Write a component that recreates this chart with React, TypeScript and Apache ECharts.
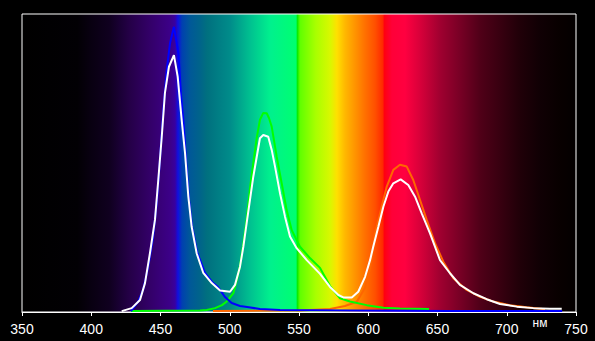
import React, { useEffect, useRef } from "react";
import * as echarts from "echarts";

// wavelength (nm) -> relative intensity (0..1 of plot height)
const blueData: [number, number][] = [
  [428.7, 0.003], [433.8, 0.034], [437.4, 0.074], [441.0, 0.148], [444.6, 0.248],
  [447.5, 0.376], [449.6, 0.51], [452.0, 0.678], [454.5, 0.812], [456.9, 0.903],
  [459.7, 0.957], [462.9, 0.869], [464.8, 0.728], [466.5, 0.644], [468.4, 0.51],
  [470.6, 0.376], [472.7, 0.289], [476.4, 0.201], [482.1, 0.131], [487.2, 0.101],
  [491.5, 0.084], [496.6, 0.05], [501.4, 0.03], [507.4, 0.02], [512.5, 0.017],
  [521.8, 0.01], [536.3, 0.007], [586.8, 0.005], [659.0, 0.003], [740.0, 0.003],
];

const greenData: [number, number][] = [
  [428.7, 0.003], [478.5, 0.005], [483.4, 0.007], [489.4, 0.013], [494.4, 0.023],
  [497.8, 0.035], [502.6, 0.063], [505.0, 0.105], [507.4, 0.155], [509.8, 0.23],
  [512.2, 0.31], [514.6, 0.415], [517.0, 0.5], [519.5, 0.585], [521.8, 0.645],
  [524.2, 0.668], [526.7, 0.667], [528.3, 0.651], [530.3, 0.622], [533.9, 0.521],
  [537.5, 0.432], [541.1, 0.342], [544.7, 0.275], [550.7, 0.219], [557.9, 0.181],
  [565.2, 0.148], [572.4, 0.087], [579.6, 0.046], [586.8, 0.035], [598.9, 0.023],
  [610.9, 0.014], [622.9, 0.012], [643.9, 0.01],
];

const redData: [number, number][] = [
  [487.9, 0.003], [550.7, 0.005], [572.4, 0.01], [583.2, 0.02], [591.7, 0.034],
  [597.7, 0.081], [601.3, 0.148], [604.9, 0.264], [608.5, 0.331], [613.3, 0.42],
  [618.1, 0.477], [622.9, 0.494], [627.8, 0.488], [632.5, 0.443], [637.4, 0.376],
  [642.2, 0.309], [648.2, 0.231], [654.2, 0.169], [661.4, 0.113], [671.1, 0.074],
  [680.7, 0.051], [690.3, 0.035], [702.3, 0.023], [714.4, 0.016], [727.6, 0.009],
];

const whiteData: [number, number][] = [
  [422.0, 0.003], [429.2, 0.013], [435.2, 0.04], [438.8, 0.097], [442.4, 0.198],
  [446.0, 0.309], [448.4, 0.443], [450.9, 0.588], [453.2, 0.735], [456.1, 0.823],
  [459.7, 0.862], [462.4, 0.79], [465.3, 0.644], [467.7, 0.534], [470.1, 0.387],
  [472.5, 0.286], [476.1, 0.197], [480.9, 0.131], [487.0, 0.097], [493.0, 0.072],
  [500.2, 0.068], [503.8, 0.091], [507.4, 0.152], [509.8, 0.219], [512.2, 0.298],
  [514.6, 0.376], [517.0, 0.454], [519.5, 0.521], [521.8, 0.583], [524.2, 0.594],
  [527.8, 0.588], [530.3, 0.544], [532.7, 0.488], [536.3, 0.398], [539.9, 0.32],
  [543.5, 0.253], [548.3, 0.214], [555.6, 0.174], [565.2, 0.128], [572.4, 0.084],
  [578.4, 0.057], [582.0, 0.049], [588.1, 0.049], [592.8, 0.068], [597.7, 0.118],
  [601.3, 0.174], [603.6, 0.219], [607.3, 0.286], [610.9, 0.353], [614.5, 0.404],
  [618.1, 0.432], [623.4, 0.445], [628.9, 0.426], [633.8, 0.387], [638.6, 0.331],
  [644.6, 0.264], [651.8, 0.174], [659.0, 0.13], [666.2, 0.091], [675.9, 0.063],
  [685.5, 0.043], [695.1, 0.027], [707.2, 0.018], [719.2, 0.013], [731.2, 0.011],
  [739.7, 0.011],
];

// background spectrum: wavelength -> colour
const spectrumWl = [
  350, 390, 399, 413.5, 420.8, 428, 435.2, 442.4, 449.6, 456.9, 460.5, 462.6,
  465.5, 471.3, 478.5, 483.6, 500.2, 514.6, 529, 548, 548.6, 550.7, 562, 572.4,
  577.4, 583.2, 597.7, 604.9, 610.5, 611.6, 617.1, 626.5, 637.4, 651.8, 666.2,
  680.7, 695.1, 709.6, 724, 738.4, 750,
];
const spectrumColors = [
  "#000000", "#020004", "#080010", "#100020", "#1a0035", "#250048", "#2c0058",
  "#330068", "#380078", "#3c0088", "#3800a0", "#1010e0", "#0040b0", "#005898",
  "#00648a", "#00707f", "#008c8a", "#00c090", "#00f08e", "#00ff70", "#00e800",
  "#60ff00", "#a8ff00", "#d8f800", "#ffe000", "#ffb800", "#ff7000", "#ff5000",
  "#ff2800", "#ff0010", "#ff0038", "#ff0040", "#d8003a", "#a00030", "#780025",
  "#500018", "#380010", "#200008", "#100004", "#080000", "#030000",
];

export default function App() {
  const ref = useRef<HTMLDivElement>(null);
  useEffect(() => {
    const chart = echarts.init(ref.current!, null, { renderer: "svg" });
    const stops = spectrumWl.map((w, i) => ({
      offset: (w - 350) / 400,
      color: spectrumColors[i],
    }));
    const line = (data: [number, number][], color: string) => ({
      type: "line",
      data,
      showSymbol: false,
      symbol: "none",
      smooth: false,
      lineStyle: { color, width: 2 },
      itemStyle: { color },
      z: 2,
    });
    chart.setOption({
      animation: false,
      backgroundColor: "#000000",
      grid: {
        left: 22,
        right: 19,
        top: 14,
        bottom: 29,
        show: true,
        backgroundColor: new echarts.graphic.LinearGradient(0, 0, 1, 0, stops),
        borderColor: "#ffffff",
        borderWidth: 1,
      },
      xAxis: {
        type: "value",
        min: 350,
        max: 750,
        interval: 50,
        axisLine: { show: true, lineStyle: { color: "#ffffff", width: 1 } },
        axisTick: { show: true, length: 4, lineStyle: { color: "#ffffff" } },
        axisLabel: {
          color: "#ffffff",
          fontSize: 14,
          fontFamily: "Liberation Sans, Arial, sans-serif",
          margin: 10,
        },
        splitLine: { show: false },
      },
      yAxis: { type: "value", min: 0, max: 1, show: false },
      graphic: [
        {
          type: "text",
          x: 540,
          y: 323,
          style: {
            text: "нм",
            fill: "#ffffff",
            fontSize: 12,
            fontFamily: "Liberation Sans, Arial, sans-serif",
            textAlign: "center",
            textVerticalAlign: "middle",
          },
        },
      ],
      series: [
        line(redData, "#ff6600"),
        line(greenData, "#00ff00"),
        line(blueData, "#0000ff"),
        line(whiteData, "#ffffff"),
      ],
    });
    return () => chart.dispose();
  }, []);
  return (
    <div
      ref={ref}
      style={{
        position: "fixed",
        left: 0,
        top: 0,
        width: 595,
        height: 341,
        background: "#000000",
      }}
    />
  );
}
